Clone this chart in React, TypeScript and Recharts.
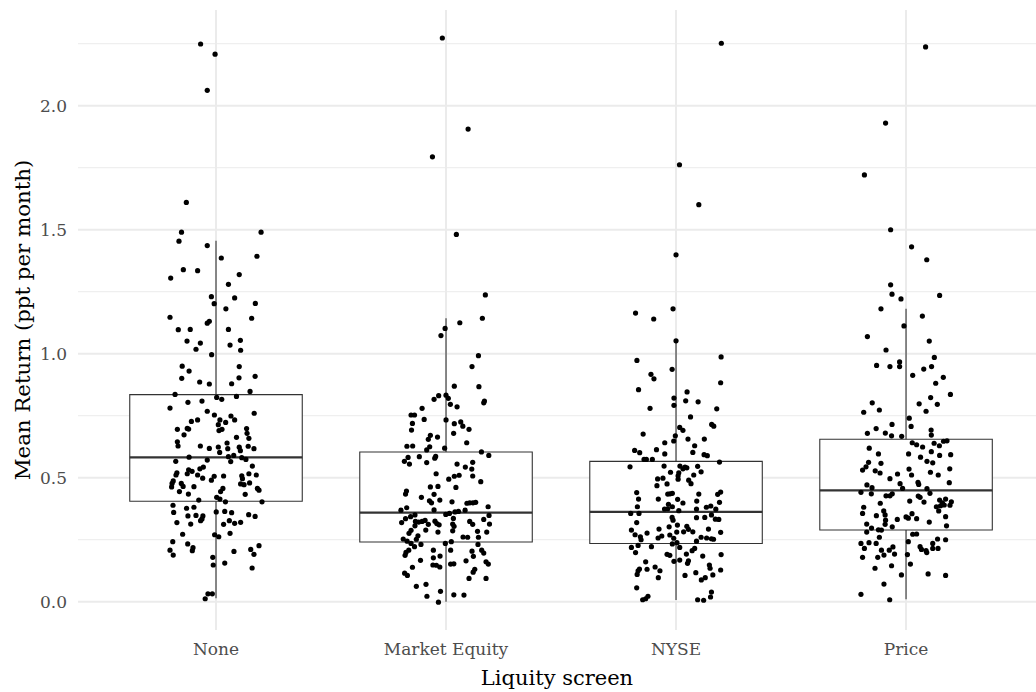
import {
  CartesianGrid,
  ComposedChart,
  ReferenceArea,
  ReferenceLine,
  Scatter,
  XAxis,
  YAxis,
} from "recharts";

// Liquidity screens on the x axis
const CATEGORIES = ["None", "Market Equity", "NYSE", "Price"];

// box statistics (ppt per month)
const WHISKER_LOW = [0.014, 0.0, 0.007, 0.01];
const Q1 = [0.405, 0.241, 0.235, 0.289];
const MEDIAN = [0.582, 0.359, 0.362, 0.449];
const Q3 = [0.835, 0.604, 0.566, 0.655];
const WHISKER_HIGH = [1.456, 1.143, 1.052, 1.181];

const Y_TICKS = [0, 0.5, 1, 1.5, 2];
const Y_MINOR = [0.25, 0.75, 1.25, 1.75, 2.25];

// jittered points: [horizontal jitter, mean return]
const NONE_PTS = [
  [-0.067, 2.249], [-0.004, 2.208], [-0.038, 2.062], [-0.129, 1.61], [-0.15, 1.49], [0.196, 1.49],
  [-0.161, 1.454], [-0.038, 1.436], [0.023, 1.386], [0.178, 1.393], [-0.142, 1.339], [-0.08, 1.335],
  [-0.197, 1.305], [0.101, 1.319], [0.054, 1.28], [-0.02, 1.23], [0.081, 1.225], [-0.008, 1.202],
  [0.171, 1.203], [0.043, 1.181], [-0.2, 1.147], [0.155, 1.143], [-0.164, 1.097], [-0.112, 1.098],
  [-0.038, 1.123], [-0.029, 1.131], [0.054, 1.098], [-0.126, 1.051], [-0.068, 1.043], [-0.087, 1.018],
  [0.061, 1.035], [0.106, 1.054], [0.107, 1.014], [-0.019, 0.996], [-0.147, 0.95], [-0.117, 0.93],
  [-0.149, 0.901], [0.101, 0.948], [0.1, 0.903], [0.17, 0.909], [-0.071, 0.886], [-0.029, 0.878],
  [0.068, 0.879], [0.148, 0.848], [-0.178, 0.836], [0.003, 0.824], [0.025, 0.816], [0.089, 0.828],
  [-0.2, 0.781], [-0.122, 0.804], [-0.061, 0.809], [0.166, 0.76], [-0.038, 0.768], [-0.007, 0.753],
  [-0.107, 0.727], [-0.08, 0.733], [0.017, 0.733], [0.042, 0.723], [0.065, 0.749], [0.081, 0.733],
  [0.01, 0.714], [-0.168, 0.695], [-0.119, 0.696], [-0.125, 0.699], [0.026, 0.695], [0.013, 0.69],
  [0.133, 0.698], [0.135, 0.679], [-0.139, 0.673], [0.089, 0.663], [0.143, 0.659], [-0.168, 0.645],
  [-0.165, 0.628], [-0.068, 0.628], [-0.029, 0.618], [0.01, 0.624], [0.048, 0.64], [0.051, 0.617],
  [0.016, 0.602], [0.101, 0.623], [0.106, 0.609], [0.14, 0.627], [0.165, 0.617], [0.077, 0.59],
  [0.112, 0.581], [0.13, 0.574], [-0.117, 0.583], [-0.038, 0.571], [0.054, 0.585], [0.064, 0.565],
  [-0.175, 0.566], [0.158, 0.547], [-0.055, 0.543], [-0.07, 0.536], [-0.119, 0.532], [-0.104, 0.526],
  [-0.125, 0.516], [-0.17, 0.52], [-0.174, 0.511], [-0.08, 0.511], [-0.058, 0.498], [-0.008, 0.506],
  [-0.02, 0.49], [0.033, 0.507], [0.112, 0.508], [0.115, 0.496], [0.143, 0.516], [0.175, 0.511],
  [-0.186, 0.487], [-0.191, 0.477], [-0.193, 0.463], [-0.151, 0.477], [-0.143, 0.465], [-0.096, 0.464],
  [-0.159, 0.444], [-0.12, 0.434], [0.107, 0.475], [0.122, 0.472], [0.146, 0.479], [0.18, 0.457],
  [0.187, 0.45], [0.03, 0.457], [0.02, 0.444], [0.127, 0.433], [0.003, 0.421], [0.017, 0.414],
  [-0.075, 0.41], [0.041, 0.403], [0.2, 0.403], [-0.187, 0.389], [-0.184, 0.36], [-0.128, 0.377],
  [-0.096, 0.381], [-0.122, 0.346], [-0.087, 0.348], [-0.057, 0.346], [-0.061, 0.334], [-0.067, 0.327],
  [-0.11, 0.313], [-0.17, 0.319], [0.001, 0.362], [0.038, 0.364], [0.068, 0.359], [0.058, 0.327],
  [0.081, 0.316], [0.033, 0.312], [0.107, 0.32], [0.142, 0.351], [0.17, 0.344], [0.061, 0.276],
  [-0.006, 0.27], [0.012, 0.262], [-0.145, 0.272], [-0.188, 0.242], [-0.2, 0.208], [-0.186, 0.188],
  [-0.123, 0.233], [-0.1, 0.218], [-0.103, 0.206], [0.078, 0.203], [0.151, 0.211], [0.165, 0.191],
  [0.187, 0.226], [-0.014, 0.179], [-0.012, 0.148], [0.038, 0.156], [0.157, 0.136], [-0.035, 0.032],
  [-0.016, 0.032], [-0.047, 0.012],
];

const MARKET_EQUITY_PTS = [
  [-0.016, 2.273], [0.096, 1.906], [-0.059, 1.794], [0.045, 1.481], [0.171, 1.237], [0.158, 1.143],
  [0.06, 1.125], [-0.004, 1.102], [-0.022, 1.073], [0.141, 0.992], [0.113, 0.948], [0.036, 0.869],
  [0.143, 0.867], [0.167, 0.809], [0.164, 0.802], [-0.052, 0.816], [-0.032, 0.831], [0.0, 0.833],
  [0.01, 0.82], [0.019, 0.796], [0.048, 0.786], [-0.104, 0.78], [-0.152, 0.753], [-0.137, 0.753],
  [-0.095, 0.735], [-0.146, 0.719], [0.0, 0.733], [0.036, 0.718], [0.064, 0.725], [0.073, 0.708],
  [0.1, 0.695], [-0.15, 0.692], [0.033, 0.679], [-0.068, 0.671], [-0.037, 0.664], [-0.077, 0.655],
  [0.09, 0.641], [-0.17, 0.627], [-0.145, 0.628], [-0.071, 0.625], [-0.084, 0.612], [-0.006, 0.619],
  [0.154, 0.604], [0.186, 0.59], [-0.165, 0.582], [-0.181, 0.566], [-0.159, 0.555], [-0.116, 0.585],
  [-0.084, 0.561], [-0.049, 0.579], [-0.045, 0.586], [0.048, 0.555], [0.084, 0.543], [0.116, 0.562],
  [0.112, 0.535], [0.116, 0.507], [0.151, 0.484], [-0.043, 0.516], [0.012, 0.494], [0.036, 0.506],
  [0.057, 0.51], [-0.068, 0.463], [-0.035, 0.465], [0.043, 0.461], [-0.172, 0.446], [-0.176, 0.434],
  [-0.052, 0.433], [-0.107, 0.421], [-0.072, 0.407], [-0.063, 0.399], [-0.027, 0.41], [0.026, 0.403],
  [0.091, 0.397], [0.103, 0.399], [0.117, 0.399], [0.129, 0.401], [0.183, 0.383], [-0.196, 0.369],
  [-0.171, 0.379], [-0.052, 0.37], [0.083, 0.369], [0.054, 0.364], [0.039, 0.362], [0.015, 0.356],
  [-0.001, 0.352], [-0.135, 0.35], [-0.154, 0.343], [-0.176, 0.335], [-0.193, 0.319], [-0.133, 0.324],
  [-0.119, 0.321], [-0.104, 0.324], [-0.091, 0.328], [-0.077, 0.312], [-0.135, 0.306], [-0.048, 0.325],
  [-0.04, 0.315], [-0.03, 0.31], [0.032, 0.336], [0.029, 0.313], [0.035, 0.304], [0.103, 0.324],
  [0.116, 0.312], [0.164, 0.332], [0.189, 0.313], [0.187, 0.348], [-0.088, 0.289], [-0.152, 0.288],
  [-0.161, 0.276], [-0.122, 0.266], [-0.129, 0.252], [-0.186, 0.253], [-0.169, 0.244], [-0.035, 0.281],
  [0.029, 0.286], [0.074, 0.261], [0.094, 0.26], [0.137, 0.284], [0.141, 0.26], [0.177, 0.281],
  [-0.152, 0.235], [-0.109, 0.231], [-0.137, 0.222], [-0.003, 0.235], [0.023, 0.242], [0.139, 0.231],
  [-0.162, 0.208], [-0.174, 0.199], [-0.178, 0.187], [-0.055, 0.208], [0.02, 0.208], [0.113, 0.204],
  [0.119, 0.183], [0.155, 0.208], [0.164, 0.196], [-0.055, 0.177], [-0.026, 0.184], [-0.111, 0.167],
  [0.087, 0.165], [0.174, 0.161], [0.184, 0.152], [-0.057, 0.148], [-0.042, 0.147], [-0.027, 0.14],
  [0.02, 0.152], [0.034, 0.153], [-0.146, 0.139], [0.125, 0.131], [0.118, 0.119], [-0.18, 0.115],
  [-0.168, 0.106], [0.1, 0.094], [0.174, 0.094], [-0.129, 0.062], [-0.087, 0.07], [-0.024, 0.042],
  [-0.083, 0.022], [0.034, 0.028], [0.078, 0.027], [-0.033, -0.002],
];

const NYSE_PTS = [
  [0.197, 2.252], [0.015, 1.762], [0.099, 1.601], [0.0, 1.399], [-0.176, 1.164], [-0.097, 1.14],
  [-0.013, 1.181], [0.0, 1.052], [-0.17, 0.973], [0.196, 0.987], [-0.017, 0.937], [-0.109, 0.917],
  [-0.096, 0.899], [0.194, 0.883], [-0.163, 0.855], [0.048, 0.846], [-0.009, 0.821], [0.042, 0.81],
  [0.096, 0.806], [-0.009, 0.792], [-0.113, 0.78], [0.177, 0.778], [0.063, 0.745], [0.155, 0.715],
  [0.164, 0.708], [0.016, 0.703], [0.03, 0.691], [-0.143, 0.676], [-0.003, 0.669], [-0.01, 0.648],
  [0.052, 0.656], [0.123, 0.656], [-0.049, 0.641], [0.081, 0.629], [-0.085, 0.613], [-0.18, 0.61],
  [-0.158, 0.601], [0.073, 0.602], [-0.049, 0.596], [0.122, 0.593], [0.136, 0.589], [-0.139, 0.574],
  [-0.129, 0.574], [-0.103, 0.574], [0.189, 0.563], [-0.2, 0.544], [-0.052, 0.547], [0.017, 0.547],
  [0.039, 0.543], [0.047, 0.54], [0.094, 0.546], [0.03, 0.536], [-0.024, 0.522], [0.012, 0.52],
  [0.109, 0.524], [0.009, 0.508], [0.077, 0.511], [-0.08, 0.495], [-0.057, 0.498], [0.009, 0.494],
  [0.055, 0.49], [0.065, 0.476], [-0.083, 0.468], [-0.039, 0.475], [-0.171, 0.44], [-0.163, 0.414],
  [-0.168, 0.383], [-0.036, 0.434], [-0.026, 0.435], [-0.016, 0.437], [0.099, 0.434], [-0.077, 0.414],
  [0.007, 0.413], [0.03, 0.398], [0.09, 0.406], [-0.033, 0.393], [-0.016, 0.383], [-0.05, 0.374],
  [-0.036, 0.375], [0.012, 0.367], [0.089, 0.374], [0.132, 0.381], [0.151, 0.386], [0.173, 0.373],
  [0.189, 0.401], [0.194, 0.442], [0.181, 0.433], [-0.197, 0.356], [-0.161, 0.356], [-0.171, 0.319],
  [-0.017, 0.34], [-0.013, 0.329], [0.089, 0.339], [0.125, 0.34], [0.154, 0.35], [0.171, 0.333],
  [0.186, 0.332], [-0.194, 0.289], [-0.178, 0.27], [-0.155, 0.262], [-0.152, 0.25], [-0.126, 0.277],
  [-0.074, 0.293], [-0.078, 0.257], [-0.062, 0.265], [-0.03, 0.302], [0.006, 0.309], [0.003, 0.281],
  [-0.027, 0.269], [-0.01, 0.256], [0.033, 0.282], [0.047, 0.304], [0.054, 0.292], [0.073, 0.282],
  [0.089, 0.244], [0.109, 0.26], [0.133, 0.257], [0.141, 0.293], [0.154, 0.254], [0.163, 0.252],
  [0.194, 0.28], [-0.194, 0.219], [-0.176, 0.198], [-0.165, 0.227], [-0.107, 0.222], [-0.016, 0.233],
  [0.004, 0.238], [0.016, 0.219], [0.081, 0.215], [0.07, 0.206], [-0.039, 0.191], [-0.027, 0.187],
  [0.045, 0.192], [0.116, 0.184], [0.196, 0.19], [-0.132, 0.161], [-0.009, 0.163], [0.016, 0.168],
  [0.054, 0.165], [0.05, 0.155], [0.145, 0.148], [0.148, 0.135], [-0.159, 0.132], [-0.165, 0.125],
  [-0.169, 0.11], [-0.126, 0.131], [-0.091, 0.14], [-0.07, 0.125], [-0.077, 0.097], [0.039, 0.106],
  [0.086, 0.117], [0.11, 0.088], [0.127, 0.097], [0.16, 0.108], [0.194, 0.128], [-0.171, 0.056],
  [-0.145, 0.008], [-0.132, 0.012], [-0.122, 0.022], [0.094, 0.008], [0.12, 0.006], [0.15, 0.019],
  [0.154, 0.039],
];

const PRICE_PTS = [
  [0.085, 2.237], [-0.089, 1.93], [-0.181, 1.721], [-0.067, 1.5], [0.024, 1.431], [0.09, 1.379],
  [-0.067, 1.278], [-0.061, 1.24], [-0.022, 1.221], [-0.109, 1.181], [0.146, 1.235], [0.071, 1.152],
  [-0.009, 1.112], [-0.168, 1.069], [0.101, 1.051], [-0.087, 1.015], [0.123, 0.985], [-0.128, 0.953],
  [-0.07, 0.948], [-0.028, 0.948], [-0.028, 0.967], [0.111, 0.948], [0.077, 0.938], [0.029, 0.913],
  [0.162, 0.905], [0.129, 0.881], [0.193, 0.836], [0.107, 0.823], [-0.147, 0.802], [0.057, 0.798],
  [0.136, 0.796], [0.087, 0.768], [-0.116, 0.773], [-0.184, 0.764], [0.014, 0.74], [0.022, 0.707],
  [-0.061, 0.715], [-0.13, 0.698], [-0.168, 0.679], [-0.09, 0.68], [-0.063, 0.669], [-0.019, 0.667],
  [0.109, 0.692], [0.11, 0.672], [0.027, 0.641], [0.046, 0.633], [0.072, 0.624], [0.122, 0.639],
  [0.145, 0.629], [0.163, 0.647], [0.178, 0.649], [-0.16, 0.619], [0.011, 0.596], [0.063, 0.583],
  [0.11, 0.605], [0.091, 0.566], [0.116, 0.56], [0.146, 0.59], [0.194, 0.593], [-0.12, 0.596],
  [-0.163, 0.562], [-0.174, 0.544], [-0.189, 0.531], [-0.109, 0.558], [-0.113, 0.519], [-0.134, 0.528],
  [0.013, 0.535], [0.024, 0.511], [0.106, 0.522], [0.14, 0.511], [0.19, 0.536], [0.188, 0.48],
  [-0.07, 0.496], [-0.037, 0.515], [-0.026, 0.476], [-0.015, 0.457], [0.052, 0.481], [0.055, 0.473],
  [0.091, 0.456], [-0.17, 0.471], [-0.148, 0.46], [-0.196, 0.441], [-0.151, 0.435], [-0.087, 0.427],
  [-0.07, 0.427], [-0.06, 0.435], [0.053, 0.426], [0.061, 0.421], [0.078, 0.402], [0.016, 0.406],
  [0.104, 0.437], [0.146, 0.41], [0.158, 0.399], [0.15, 0.387], [0.132, 0.383], [0.142, 0.366],
  [0.166, 0.39], [0.191, 0.389], [0.197, 0.403], [0.172, 0.414], [-0.112, 0.397], [-0.184, 0.381],
  [-0.189, 0.356], [-0.129, 0.347], [-0.097, 0.366], [-0.091, 0.35], [-0.089, 0.329], [-0.091, 0.312],
  [-0.06, 0.302], [-0.038, 0.332], [0.0, 0.342], [0.01, 0.337], [0.026, 0.355], [0.046, 0.335],
  [0.101, 0.321], [0.172, 0.343], [0.176, 0.306], [-0.171, 0.313], [-0.15, 0.297], [-0.12, 0.29],
  [-0.107, 0.289], [-0.171, 0.281], [0.029, 0.272], [0.046, 0.273], [-0.196, 0.235], [-0.161, 0.238],
  [-0.13, 0.235], [-0.116, 0.26], [-0.181, 0.215], [-0.189, 0.179], [-0.107, 0.208], [-0.123, 0.179],
  [-0.096, 0.188], [-0.073, 0.208], [-0.057, 0.221], [-0.05, 0.192], [0.01, 0.242], [0.006, 0.19],
  [0.061, 0.222], [0.067, 0.211], [0.087, 0.206], [0.09, 0.198], [0.116, 0.215], [0.139, 0.215],
  [0.137, 0.253], [0.172, 0.25], [0.116, 0.235], [-0.135, 0.135], [-0.063, 0.145], [0.019, 0.152],
  [-0.02, 0.108], [0.096, 0.112], [0.172, 0.106], [-0.096, 0.071], [-0.196, 0.03], [-0.071, 0.008],
];

const GROUPS = [NONE_PTS, MARKET_EQUITY_PTS, NYSE_PTS, PRICE_PTS];

const BOX_HALF = 0.375;
const GRID = "#ebebeb";
const BOX_LINE = "#333333";
const FONT = "'DejaVu Serif', serif";

const points = GROUPS.flatMap((pts, i) =>
  pts.map(([jitter, value]) => ({ x: i + 1 + jitter, y: value }))
);

const Dot = (props: any) => <circle cx={props.cx} cy={props.cy} r={2.6} fill="#000" />;

export default function App() {
  return (
    <div style={{ position: "absolute", left: 0, top: 0, width: 1036, height: 692, background: "#fff", fontFamily: FONT }}>
      <ComposedChart width={1036} height={692} margin={{ top: 10, right: 0, bottom: 0, left: 0 }}>
        <CartesianGrid stroke={GRID} strokeWidth={1} vertical={false} horizontalValues={Y_MINOR} />
        <CartesianGrid stroke={GRID} strokeWidth={2} horizontalValues={Y_TICKS} verticalValues={[1, 2, 3, 4]} />
        <XAxis
          dataKey="x"
          type="number"
          domain={[0.4, 4.565]}
          ticks={[1, 2, 3, 4]}
          interval={0}
          allowDataOverflow
          tickFormatter={(v: number) => CATEGORIES[v - 1]}
          axisLine={false}
          tickLine={false}
          tickSize={0}
          tickMargin={13}
          height={62}
          tick={{ fill: "#4d4d4d", fontSize: 17, fontFamily: FONT }}
          label={{ value: "Liquity screen", position: "insideBottom", offset: 7, fill: "#000", fontSize: 21, fontFamily: FONT }}
        />
        <YAxis
          dataKey="y"
          type="number"
          domain={[-0.114, 2.386]}
          ticks={Y_TICKS}
          allowDataOverflow
          tickFormatter={(v: number) => v.toFixed(1)}
          axisLine={false}
          tickLine={false}
          tickSize={0}
          tickMargin={11}
          width={78}
          tick={{ fill: "#4d4d4d", fontSize: 17, fontFamily: FONT }}
          label={{
            value: "Mean Return (ppt per month)",
            angle: -90,
            position: "insideLeft",
            offset: 22,
            fill: "#000",
            fontSize: 21.3,
            fontFamily: FONT,
            style: { textAnchor: "middle" },
          }}
        />
        {CATEGORIES.map((c, i) => (
          <ReferenceArea
            key={"box" + c}
            x1={i + 1 - BOX_HALF}
            x2={i + 1 + BOX_HALF}
            y1={Q1[i]}
            y2={Q3[i]}
            fill="#fff"
            fillOpacity={1}
            stroke={BOX_LINE}
            strokeWidth={1.1}
          />
        ))}
        {CATEGORIES.map((c, i) => (
          <ReferenceLine
            key={"wh" + c}
            segment={[{ x: i + 1, y: Q3[i] }, { x: i + 1, y: WHISKER_HIGH[i] }]}
            stroke={BOX_LINE}
            strokeWidth={1.1}
          />
        ))}
        {CATEGORIES.map((c, i) => (
          <ReferenceLine
            key={"wl" + c}
            segment={[{ x: i + 1, y: WHISKER_LOW[i] }, { x: i + 1, y: Q1[i] }]}
            stroke={BOX_LINE}
            strokeWidth={1.1}
          />
        ))}
        {CATEGORIES.map((c, i) => (
          <ReferenceLine
            key={"md" + c}
            segment={[{ x: i + 1 - BOX_HALF, y: MEDIAN[i] }, { x: i + 1 + BOX_HALF, y: MEDIAN[i] }]}
            stroke={BOX_LINE}
            strokeWidth={2.2}
          />
        ))}
        <Scatter data={points} dataKey="y" shape={Dot} isAnimationActive={false} />
      </ComposedChart>
    </div>
  );
}
